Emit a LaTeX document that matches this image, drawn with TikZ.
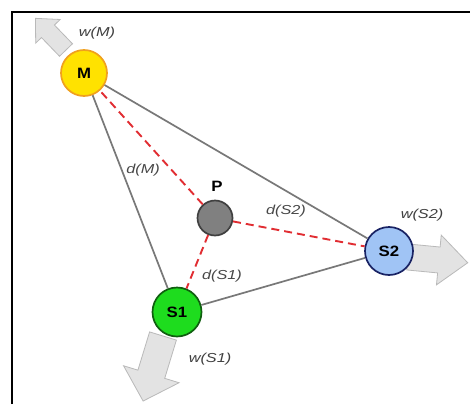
\documentclass[tikz,border=0pt]{standalone}
\usepackage{fontspec}
\setmainfont{Liberation Sans}
\definecolor{myellow}{RGB}{255,226,0}
\definecolor{morange}{RGB}{240,160,30}
\definecolor{sblue}{RGB}{160,196,245}
\definecolor{snavy}{RGB}{25,35,100}
\definecolor{sgreen}{RGB}{30,220,30}
\definecolor{sdgreen}{RGB}{15,95,15}
\definecolor{pgray}{RGB}{128,128,128}
\definecolor{lgray}{RGB}{120,120,120}
\definecolor{rdash}{RGB}{225,45,50}
\begin{document}
\begin{tikzpicture}[x=1pt,y=-1pt,
  tri/.style={draw=lgray, line width=1.7pt},
  reddash/.style={draw=rdash, line width=1.9pt, dash pattern=on 8pt off 5pt},
  barrow/.style={fill=gray!22, draw=gray!55, line width=0.8pt},
  wlab/.style={font=\fontsize{13}{13}\selectfont\itshape, text=black!75, xscale=1.25},
  dlab/.style={font=\fontsize{13}{13}\selectfont\itshape, text=black!72, xscale=1.25},
  circ/.style={circle, line width=1.7pt, inner sep=0pt},
  ctext/.style={font=\fontsize{15}{15}\selectfont\bfseries, xscale=1.12},
]
\newcommand{\blockarr}[7]{\draw[barrow, shift={(#1,#2)}, rotate=#3] (0,-#5) -- ({#4-#7},-#5) -- ({#4-#7},-#6) -- (#4,0) -- ({#4-#7},#6) -- ({#4-#7},#5) -- (0,#5) -- cycle;}
\useasboundingbox (0,0) rectangle (470,404);
\fill[white] (0,0) rectangle (470,404);
% frame
\draw[line width=2.2pt] (12,404) -- (12,12) -- (470,12);
% block arrows
\blockarr{66}{50}{134}{44}{9}{17}{18}
\blockarr{408}{257}{-5.5}{60}{13}{25}{29}
\blockarr{163}{336}{-107}{68}{14}{29}{28}
% nodes
\node[circ, minimum size=46pt, fill=myellow, draw=morange] (M) at (84,73) {};
\node[circ, minimum size=35pt, fill=pgray, draw=black!75] (P) at (215,218) {};
\node[circ, minimum size=48pt, fill=sblue, draw=snavy] (S2) at (389,251) {};
\node[circ, minimum size=49pt, fill=sgreen, draw=sdgreen] (S1) at (177,312) {};
\node[ctext] (Mt) at (M.center) {M};
\node[ctext] (S2t) at (S2.center) {S2};
\node[ctext] (S1t) at (S1.center) {S1};
% edges
\draw[tri] (M) -- (S1);
\draw[tri] (M) -- (S2);
\draw[tri] (S1) -- (S2);
\draw[reddash] (P) -- (M);
\draw[reddash] (P) -- (S1);
\draw[reddash] (P) -- (S2);
% labels
\node[ctext] (Plab) at (217,186) {P};
\node[wlab] (wM) at (97,33) {w(M)};
\node[wlab] (wS2) at (422,215) {w(S2)};
\node[wlab] (wS1) at (210,359) {w(S1)};
\node[dlab] (dM) at (143,170) {d(M)};
\node[dlab] (dS2) at (286,211) {d(S2)};
\node[dlab] (dS1) at (222,276) {d(S1)};
\end{tikzpicture}
\end{document}
